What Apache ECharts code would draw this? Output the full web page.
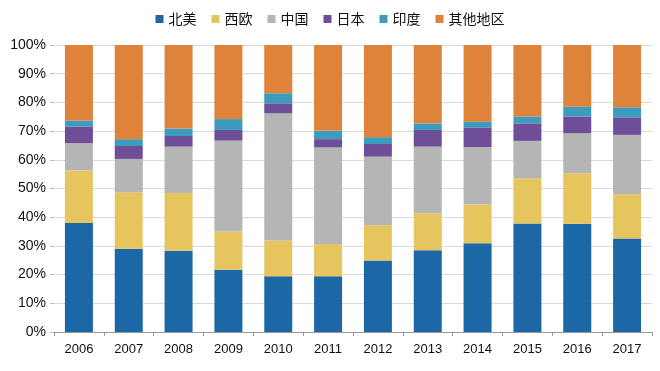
<!DOCTYPE html>
<html><head><meta charset="utf-8">
<script src="https://cdn.jsdelivr.net/npm/echarts@6/dist/echarts.min.js"></script>
<style>html,body{margin:0;padding:0;background:#fff}#c{width:660px;height:371px}</style>
</head><body><div id="c"></div>
<script>
var years = ['2006','2007','2008','2009','2010','2011','2012','2013','2014','2015','2016','2017'];
var northAmerica = [38.0, 29.0, 28.3, 21.7, 19.4, 19.4, 24.9, 28.5, 30.9, 37.8, 37.7, 32.6];
var westEurope   = [18.3, 19.7, 20.1, 13.3, 12.5, 11.3, 12.3, 12.9, 13.5, 15.8, 17.6, 15.4];
var china        = [9.5, 11.6, 16.2, 31.7, 44.3, 33.6, 23.9, 23.2, 20.0, 13.0, 14.0, 20.7];
var japan        = [5.8, 4.5, 3.7, 3.7, 3.5, 2.9, 4.4, 5.8, 6.9, 6.1, 5.8, 6.1];
var india        = [2.1, 2.4, 2.6, 3.8, 3.5, 2.9, 2.4, 2.3, 2.0, 2.4, 3.4, 3.5];
var others       = [26.3, 32.8, 29.1, 25.8, 16.8, 29.9, 32.1, 27.3, 26.7, 24.9, 21.5, 21.7];
var seriesNames = ['北美','西欧','中国','日本','印度','其他地区'];
var yTicks = ['0%','10%','20%','30%','40%','50%','60%','70%','80%','90%','100%'];
var colors = ['#1c68a7','#e6c55f','#b5b5b5','#6f4e98','#3d9cbd','#df833a'];
var dataSets = [northAmerica, westEurope, china, japan, india, others];

var chart = echarts.init(document.getElementById('c'), null, {renderer:'canvas'});
var series = seriesNames.map(function(n,i){
  return {name:n, type:'bar', stack:'total', barWidth:28, data:dataSets[i],
    itemStyle:{color:colors[i]}, emphasis:{disabled:true}};
});
chart.setOption({
  animation:false,
  textStyle:{fontFamily:'Liberation Sans, Arial, sans-serif'},
  legend:{top:7, left:'center', itemWidth:8, itemHeight:8, itemGap:15, icon:'rect',
    textStyle:{fontSize:14, color:'#111', fontFamily:'Noto Sans CJK SC'}, data:seriesNames},
  grid:{left:54, right:8, top:45, bottom:39, containLabel:false},
  xAxis:{type:'category', data:years,
    axisLine:{lineStyle:{color:'#999'}},
    axisTick:{show:true, alignWithLabel:false, length:4, lineStyle:{color:'#999'}},
    axisLabel:{fontSize:13, color:'#111', margin:11}},
  yAxis:{type:'value', min:0, max:100, interval:10,
    axisLine:{show:false},
    axisTick:{show:true, length:4, lineStyle:{color:'#bbb'}},
    splitLine:{lineStyle:{color:'#d9d9d9'}},
    axisLabel:{fontSize:14, color:'#111', margin:8, formatter:function(v){return yTicks[Math.round(v/10)];}}},
  series:series
});
</script></body></html>
